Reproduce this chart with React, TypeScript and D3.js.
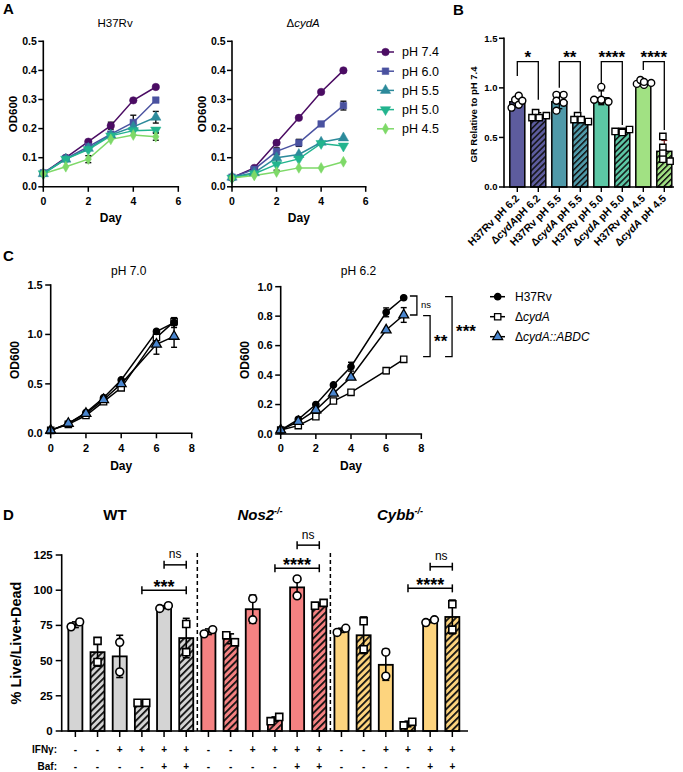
import React from 'react';
import * as d3 from 'd3';

const FONT = "'Liberation Sans', Arial, Helvetica, sans-serif";

// ---------------- Panel A data ----------------
const daysA = [0, 1, 2, 3, 4, 5];
const phLabels = ['pH 7.4', 'pH 6.0', 'pH 5.5', 'pH 5.0', 'pH 4.5'];
const phColors = ['#4b0c63', '#4a52a0', '#2c8a9b', '#22b48e', '#7ed968'];
const phShapes = ['circle', 'square', 'triangle', 'triangleDown', 'diamond'];
const h37rvMeans = [
  [0.046, 0.100, 0.155, 0.210, 0.297, 0.343],
  [0.048, 0.097, 0.138, 0.181, 0.221, 0.298],
  [0.045, 0.095, 0.132, 0.178, 0.206, 0.239],
  [0.045, 0.095, 0.128, 0.175, 0.193, 0.195],
  [0.045, 0.069, 0.095, 0.163, 0.178, 0.172],
];
const h37rvSD = [
  [0, 0, 0, 0.012, 0, 0],
  [0, 0, 0, 0.008, 0.025, 0],
  [0, 0, 0, 0, 0.012, 0.02],
  [0, 0, 0, 0, 0, 0.008],
  [0, 0, 0.012, 0, 0, 0.012],
];
const cydMeans = [
  [0.031, 0.065, 0.151, 0.237, 0.326, 0.400],
  [0.033, 0.060, 0.122, 0.151, 0.216, 0.279],
  [0.033, 0.048, 0.100, 0.111, 0.153, 0.168],
  [0.030, 0.045, 0.077, 0.096, 0.149, 0.140],
  [0.030, 0.039, 0.051, 0.065, 0.065, 0.086],
];
const cydSD = [
  [0, 0, 0, 0, 0, 0],
  [0, 0, 0.012, 0.012, 0, 0.015],
  [0, 0, 0, 0, 0, 0],
  [0, 0, 0.02, 0, 0, 0],
  [0, 0, 0, 0, 0, 0],
];
const aTicksX = [0, 2, 4, 6];
const aTicksY = [0, 0.1, 0.2, 0.3, 0.4, 0.5];

// ---------------- Panel B data ----------------
const bLabels = ['H37Rv pH 6.2', 'ΔcydApH 6.2', 'H37Rv pH 5.5', 'ΔcydA pH 5.5', 'H37Rv pH 5.0', 'ΔcydA pH 5.0', 'H37Rv pH 4.5', 'ΔcydA pH 4.5'];
const bMeans = [0.86, 0.72, 0.86, 0.68, 0.90, 0.56, 1.05, 0.36];
const bSD = [0.05, 0.03, 0.07, 0.03, 0.07, 0.02, 0.03, 0.11];
const bPoints = [
  [0.88, 0.92, 0.83, 0.80, 0.87],
  [0.75, 0.70, 0.70, 0.72],
  [0.93, 0.93, 0.77, 0.87, 0.85],
  [0.72, 0.68, 0.68, 0.66],
  [1.01, 0.87, 0.86, 0.88, 0.88],
  [0.56, 0.58, 0.56, 0.55],
  [1.03, 1.05, 1.04, 1.08, 1.06],
  [0.51, 0.40, 0.34, 0.28, 0.26],
];
const bColors = ['#5d5c9e', '#5d5c9e', '#4f99a9', '#4f99a9', '#5cc7a5', '#5cc7a5', '#a1e183', '#a1e183'];
const bTicksY = [0, 0.5, 1.0, 1.5];
const bSig = ['*', '**', '****', '****'];
const bSigTop = 1.264;
const bSigLegs = [[1.12, 0.88], [1.0, 0.76], [1.05, 0.625], [1.18, 0.575]];

// ---------------- Panel C data ----------------
const cStrains = ['H37Rv', 'ΔcydA', 'ΔcydA::ABDC'];
const daysC = [0, 1, 2, 3, 4, 6, 7];
const c70Means = [
  [0.03, 0.10, 0.21, 0.36, 0.54, 1.03, 1.12],
  [0.03, 0.09, 0.18, 0.32, 0.46, 0.97, 1.13],
  [0.03, 0.10, 0.20, 0.34, 0.50, 0.90, 0.98],
];
const c70SD = [
  [0, 0, 0, 0, 0, 0.02, 0.05],
  [0, 0, 0, 0, 0, 0, 0.03],
  [0, 0, 0, 0, 0.02, 0.10, 0.11],
];
const c62Means = [
  [0.027, 0.100, 0.200, 0.333, 0.457, 0.826, 0.925],
  [0.027, 0.057, 0.118, 0.224, 0.283, 0.430, 0.507],
  [0.027, 0.084, 0.163, 0.276, 0.385, 0.706, 0.808],
];
const c62SD = [
  [0, 0, 0, 0, 0.03, 0.03, 0],
  [0, 0, 0, 0, 0, 0.02, 0],
  [0, 0, 0, 0, 0, 0, 0.05],
];
const cTicksX = [0, 2, 4, 6, 8];
const c70TicksY = [0, 0.5, 1.0, 1.5];
const c62TicksY = [0, 0.2, 0.4, 0.6, 0.8, 1.0];
// brackets: x in day units, y range in OD units
const cBrackets = [
  { x: 7.75, y0: 0.937, y1: 0.808, label: 'ns' },
  { x: 8.5, y0: 0.803, y1: 0.525, label: '**' },
  { x: 9.75, y0: 0.932, y1: 0.525, label: '***' },
];

// ---------------- Panel D data ----------------
const dGroups = ['WT', 'Nos2', 'Cybb'];
const dGroupSup = ['', '-/-', '-/-'];
const dMeans = [75.5, 56, 53, 20.5, 88, 66, 70.5, 65.5, 86.5, 8.5, 102, 90, 71.5, 68, 47, 5, 78, 81];
const dSD = [2, 10, 15, 0.5, 1, 14, 2, 3.5, 10, 1.5, 7, 1, 1.5, 13, 11, 2, 1, 12];
const dPoints = [
  [74, 77.5], [64, 49], [63, 42], [20, 20], [87, 89], [76, 56],
  [69, 72], [68, 63], [94, 79], [7, 10], [108, 96], [89, 91],
  [70, 73], [78, 58], [56, 39], [4, 6.5], [77, 79], [90, 72],
];
const dIFN = ['-', '-', '+', '+', '+', '+', '-', '-', '+', '+', '+', '+', '-', '-', '+', '+', '+', '+'];
const dBaf = ['-', '-', '-', '-', '+', '+', '-', '-', '-', '-', '+', '+', '-', '-', '-', '-', '+', '+'];
const dColors = ['#d4d4d4', '#f58282', '#fdd47e'];
const dTicksY = [0, 25, 50, 75, 100, 125];
// significance brackets: from bar index a to b at y (data units)
const dSig = [
  { a: 3, b: 5, y: 100, label: '***' },
  { a: 4, b: 5, y: 118, label: 'ns' },
  { a: 9, b: 11, y: 115.6, label: '****' },
  { a: 10, b: 11, y: 132, label: 'ns' },
  { a: 15, b: 17, y: 101.3, label: '****' },
  { a: 16, b: 17, y: 116.7, label: 'ns' },
];

// ---------------- helpers ----------------
const symbolTypes: any = {
  circle: d3.symbolCircle,
  square: d3.symbolSquare,
  triangle: d3.symbolTriangle,
  triangleDown: d3.symbolTriangle,
  diamond: d3.symbolDiamond,
};

function Marker({ shape, cx, cy, size, fill, stroke = '#000', sw = 1.2 }: any) {
  const d = d3.symbol(symbolTypes[shape], size)() as string;
  const rot = shape === 'triangleDown' ? 180 : 0;
  return <path d={d} transform={`translate(${cx},${cy}) rotate(${rot})`} fill={fill} stroke={stroke} strokeWidth={sw} />;
}

function ErrBar({ x, yLo, yHi, cap, sw = 1.3, color = '#000' }: any) {
  return (
    <g stroke={color} strokeWidth={sw} fill="none">
      <line x1={x} x2={x} y1={yLo} y2={yHi} />
      <line x1={x - cap / 2} x2={x + cap / 2} y1={yLo} y2={yLo} />
      <line x1={x - cap / 2} x2={x + cap / 2} y1={yHi} y2={yHi} />
    </g>
  );
}

function YAxis({ scale, x, ticks, fmt, fs, tick = 5, gap = 1.5 }: any) {
  const [r0, r1] = scale.range();
  return (
    <g>
      <line x1={x} x2={x} y1={r0} y2={r1} stroke="#000" strokeWidth={1.6} strokeLinecap="square" />
      {ticks.map((t: number) => (
        <g key={t}>
          <line x1={x - tick} x2={x} y1={scale(t)} y2={scale(t)} stroke="#000" strokeWidth={1.5} />
          <text x={x - tick - gap} y={scale(t)} dy="0.35em" textAnchor="end" fontWeight="bold" fontSize={fs}>{fmt(t)}</text>
        </g>
      ))}
    </g>
  );
}

function XAxis({ scale, y, ticks, fs, tick = 5, labelY }: any) {
  const [r0, r1] = scale.range();
  return (
    <g>
      <line x1={r0} x2={r1} y1={y} y2={y} stroke="#000" strokeWidth={1.6} strokeLinecap="square" />
      {ticks.map((t: number) => (
        <g key={t}>
          <line x1={scale(t)} x2={scale(t)} y1={y} y2={y + tick} stroke="#000" strokeWidth={1.5} />
          <text x={scale(t)} y={labelY} textAnchor="middle" fontWeight="bold" fontSize={fs}>{t}</text>
        </g>
      ))}
    </g>
  );
}

function swarm(ys: number[], minDist: number, step: number) {
  const placed: { x: number; y: number }[] = [];
  const offs = ys.map((y) => {
    const cands = [0, step, -step, 2 * step, -2 * step, 3 * step, -3 * step];
    for (const c of cands) {
      if (placed.every((p) => Math.hypot(p.x - c, p.y - y) >= minDist)) {
        placed.push({ x: c, y });
        return c;
      }
    }
    placed.push({ x: 0, y });
    return 0;
  });
  const m = d3.mean(offs) as number;
  return offs.map((o) => o - m);
}

function Strain({ label }: any) {
  const m = label.match(/^Δ(cydA(?:::ABDC)?)(.*)$/);
  if (m) {
    return (
      <>
        <tspan>Δ</tspan>
        <tspan fontStyle="italic">{m[1]}</tspan>
        <tspan>{m[2]}</tspan>
      </>
    );
  }
  return <tspan>{label}</tspan>;
}

const f1 = d3.format('.1f');

// ---------------- Panel A ----------------
function PanelA() {
  const yA = d3.scaleLinear().domain([0, 0.5]).range([186.8, 41.3]);
  const xs = [
    d3.scaleLinear().domain([0, 6]).range([43.3, 178.3]),
    d3.scaleLinear().domain([0, 6]).range([232, 365.7]),
  ];
  const sets = [
    { means: h37rvMeans, sd: h37rvSD, title: 'H37Rv' },
    { means: cydMeans, sd: cydSD, title: 'ΔcydA' },
  ];
  const sizes: any = { circle: 44, square: 44, triangle: 46, triangleDown: 46, diamond: 34 };
  return (
    <g>
      <text x={3} y={14} fontWeight="bold" fontSize={15}>A</text>
      {sets.map((s, k) => {
        const x = xs[k];
        const line = d3.line<number>().x((_, i) => x(daysA[i])).y((v) => yA(v));
        const cx = (x.range()[0] + x.range()[1]) / 2;
        return (
          <g key={k}>
            <text x={cx + 4.3} y={27} textAnchor="middle" fontSize={11.5}><Strain label={s.title} /></text>
            {s.means.map((ser, j) => (
              <path key={j} d={line(ser) as string} fill="none" stroke={phColors[j]} strokeWidth={1.5} />
            ))}
            {s.means.map((ser, j) =>
              ser.map((v, i) =>
                s.sd[j][i] > 0 ? (
                  <ErrBar key={`e${j}-${i}`} x={x(daysA[i])} yLo={yA(v - s.sd[j][i])} yHi={yA(v + s.sd[j][i])} cap={6} sw={1.4} color="#111" />
                ) : null
              )
            )}
            {s.means.map((ser, j) =>
              ser.map((v, i) => (
                <Marker key={`m${j}-${i}`} shape={phShapes[j]} cx={x(daysA[i])} cy={yA(v)} size={sizes[phShapes[j]]} fill={phColors[j]} stroke={phColors[j]} sw={0.5} />
              ))
            )}
            <YAxis scale={yA} x={x.range()[0]} ticks={aTicksY} fmt={f1} fs={10.5} />
            <XAxis scale={x} y={yA(0)} ticks={aTicksX} fs={10.5} labelY={205} />
            <text x={cx} y={221.5} textAnchor="middle" fontWeight="bold" fontSize={12}>Day</text>
            <text transform={`translate(${x.range()[0] - 26},${114}) rotate(-90)`} textAnchor="middle" fontWeight="bold" fontSize={11.5}>OD600</text>
          </g>
        );
      })}
      {phLabels.map((l, j) => {
        const yy = 52 + j * 19.2;
        return (
          <g key={l}>
            <line x1={377} x2={394} y1={yy} y2={yy} stroke={phColors[j]} strokeWidth={1.5} />
            <Marker shape={phShapes[j]} cx={385.5} cy={yy} size={sizes[phShapes[j]]} fill={phColors[j]} stroke={phColors[j]} sw={0.5} />
            <text x={402} y={yy + 4.3} fontSize={12.5}>{l}</text>
          </g>
        );
      })}
    </g>
  );
}

// ---------------- Panel B ----------------
function PanelB() {
  const y = d3.scaleLinear().domain([0, 1.5]).range([187, 38.3]);
  const x = d3.scaleBand<number>().domain(d3.range(bMeans.length)).range([506.8, 674.8]).paddingInner(0.286).paddingOuter(0.143);
  const bw = x.bandwidth();
  return (
    <g>
      <text x={453} y={15} fontWeight="bold" fontSize={15}>B</text>
      {bMeans.map((m, i) => (
        <rect key={i} x={x(i)} y={y(m)} width={bw} height={y(0) - y(m)} fill={i % 2 ? `url(#hb${i})` : bColors[i]} stroke="#000" strokeWidth={1.5} />
      ))}
      {bMeans.map((m, i) => {
        const cx = (x(i) as number) + bw / 2;
        return <ErrBar key={i} x={cx} yLo={y(m - bSD[i])} yHi={y(m + bSD[i])} cap={6} sw={1.3} color={i === 7 ? '#7a2020' : '#000'} />;
      })}
      {bPoints.map((pts, i) => {
        const cx = (x(i) as number) + bw / 2;
        const ys = pts.map((v) => y(v));
        const offs = swarm(ys, 5.2, 3.6);
        return pts.map((v, k) => (
          <Marker key={`${i}-${k}`} shape={i % 2 ? 'square' : 'circle'} cx={cx + offs[k]} cy={y(v)} size={i % 2 ? 40 : 38} fill="#fff" stroke="#000" sw={1.4} />
        ));
      })}
      <YAxis scale={y} x={504} ticks={bTicksY} fmt={f1} fs={9.5} tick={5} gap={1.5} />
      <line x1={504} x2={674} y1={187} y2={187} stroke="#000" strokeWidth={1.6} />
      {bMeans.map((_, i) => {
        const cx = (x(i) as number) + bw / 2;
        return (
          <g key={i}>
            <line x1={cx} x2={cx} y1={187} y2={192} stroke="#000" strokeWidth={1.4} />
            <text transform={`translate(${cx + 2.5},${199}) rotate(-45)`} textAnchor="end" fontWeight="bold" fontSize={10.5}>
              <Strain label={bLabels[i]} />
            </text>
          </g>
        );
      })}
      {bSig.map((s, k) => {
        const xa = (x(2 * k) as number) + bw / 2;
        const xb = (x(2 * k + 1) as number) + bw / 2;
        const top = y(bSigTop);
        return (
          <g key={k}>
            <path d={`M${xa},${y(bSigLegs[k][0])}V${top}H${xb}V${y(bSigLegs[k][1])}`} fill="none" stroke="#000" strokeWidth={1.3} />
            <text x={(xa + xb) / 2} y={top + 1.5} textAnchor="middle" fontWeight="bold" fontSize={17}>{s}</text>
          </g>
        );
      })}
      <text transform={`translate(${476.5},${114.5}) rotate(-90)`} textAnchor="middle" fontWeight="bold" fontSize={9.5}>GR Relative to pH 7.4</text>
    </g>
  );
}

// ---------------- Panel C ----------------
const cShapes = ['circle', 'square', 'triangle'];
const cFills = ['#000', '#fff', '#4a86cf'];
const cSizes = [32, 40, 42];

function PanelC() {
  const panels = [
    { x: d3.scaleLinear().domain([0, 8]).range([50.7, 191.7]), y: d3.scaleLinear().domain([0, 1.5]).range([433.3, 285]), means: c70Means, sd: c70SD, ticks: c70TicksY, title: 'pH 7.0' },
    { x: d3.scaleLinear().domain([0, 8]).range([280.7, 421.3]), y: d3.scaleLinear().domain([0, 1.0]).range([434, 286.7]), means: c62Means, sd: c62SD, ticks: c62TicksY, title: 'pH 6.2' },
  ];
  return (
    <g>
      <text x={3} y={261} fontWeight="bold" fontSize={15}>C</text>
      {panels.map((p, k) => {
        const line = d3.line<number>().x((_, i) => p.x(daysC[i])).y((v) => p.y(v));
        const cx = (p.x.range()[0] + p.x.range()[1]) / 2;
        return (
          <g key={k}>
            <text x={cx + 7.5} y={275} textAnchor="middle" fontSize={12}>{p.title}</text>
            {p.means.map((ser, j) => (
              <path key={j} d={line(ser) as string} fill="none" stroke="#000" strokeWidth={1.5} />
            ))}
            {p.means.map((ser, j) =>
              ser.map((v, i) =>
                p.sd[j][i] > 0 ? <ErrBar key={`e${j}-${i}`} x={p.x(daysC[i])} yLo={p.y(v - p.sd[j][i])} yHi={p.y(v + p.sd[j][i])} cap={6} sw={1.4} /> : null
              )
            )}
            {[1, 0, 2].map((j) =>
              p.means[j].map((v, i) => (
                <Marker key={`m${j}-${i}`} shape={cShapes[j]} cx={p.x(daysC[i])} cy={p.y(v)} size={cSizes[j]} fill={cFills[j]} stroke="#000" sw={1.3} />
              ))
            )}
            <YAxis scale={p.y} x={p.x.range()[0]} ticks={p.ticks} fmt={f1} fs={11} tick={5.5} gap={2.5} />
            <XAxis scale={p.x} y={p.y(0)} ticks={cTicksX} fs={11} tick={5} labelY={452} />
            <text x={cx} y={470} textAnchor="middle" fontWeight="bold" fontSize={12}>Day</text>
            <text transform={`translate(${p.x.range()[0] - 31.5},${360}) rotate(-90)`} textAnchor="middle" fontWeight="bold" fontSize={12}>OD600</text>
          </g>
        );
      })}
      {cBrackets.map((b, k) => {
        const p = panels[1];
        const bx = p.x(b.x);
        const y0 = p.y(b.y0);
        const y1 = p.y(b.y1);
        const mid = (y0 + y1) / 2;
        return (
          <g key={k}>
            <path d={`M${bx - 7},${y0}H${bx}V${y1}H${bx - 7}`} fill="none" stroke="#000" strokeWidth={1.3} />
            {b.label === 'ns' ? (
              <text x={bx + 4} y={mid + 3} fontSize={9.5}>ns</text>
            ) : (
              <text x={bx + 4} y={mid + 10.5} fontWeight="bold" fontSize={17}>{b.label}</text>
            )}
          </g>
        );
      })}
      {cStrains.map((s, j) => {
        const yy = 296.7 + j * 20;
        return (
          <g key={s}>
            <line x1={490} x2={505} y1={yy} y2={yy} stroke="#000" strokeWidth={1.5} />
            <Marker shape={cShapes[j]} cx={497.7} cy={yy} size={cSizes[j]} fill={cFills[j]} stroke="#000" sw={1.3} />
            <text x={515} y={yy + 4.3} fontSize={12}><Strain label={s} /></text>
          </g>
        );
      })}
    </g>
  );
}

// ---------------- Panel D ----------------
function PanelD() {
  const y = d3.scaleLinear().domain([0, 125]).range([731, 555]);
  const x = d3.scaleBand<number>().domain(d3.range(dMeans.length)).range([61.7, 466]).paddingInner(0.367).paddingOuter(0.3);
  const bw = x.bandwidth();
  const c = (i: number) => (x(i) as number) + bw / 2;
  const groupCenters = [115, 260, 400];
  return (
    <g>
      <text x={3} y={520} fontWeight="bold" fontSize={15}>D</text>
      {dGroups.map((g, k) => (
        <text key={g} x={groupCenters[k]} y={520} textAnchor="middle" fontWeight="bold" fontSize={15} fontStyle={k ? 'italic' : 'normal'}>
          {g}
          {dGroupSup[k] ? <tspan fontSize={9} dy={-6} fontStyle="italic">{dGroupSup[k]}</tspan> : null}
        </text>
      ))}
      {[5.5, 11.5].map((s) => {
        const xs = (c(Math.floor(s)) + c(Math.ceil(s))) / 2;
        return <line key={s} x1={xs} x2={xs} y1={553} y2={731} stroke="#000" strokeWidth={1.5} strokeDasharray="4,3" />;
      })}
      {dMeans.map((m, i) => {
        const g = Math.floor(i / 6);
        return <rect key={i} x={x(i)} y={y(m)} width={bw} height={y(0) - y(m)} fill={i % 2 ? `url(#hd${g})` : dColors[g]} stroke="#000" strokeWidth={1.8} />;
      })}
      {dMeans.map((m, i) => (dSD[i] > 0.6 ? <ErrBar key={i} x={c(i)} yLo={y(m - dSD[i])} yHi={y(m + dSD[i])} cap={7} sw={1.6} /> : null))}
      {dPoints.map((pts, i) => {
        const ys = pts.map((v) => y(v));
        const offs = swarm(ys, 7.8, 8.6);
        return pts.map((v, k) => (
          <Marker key={`${i}-${k}`} shape={i % 2 ? 'square' : 'circle'} cx={c(i) + offs[k]} cy={y(v)} size={i % 2 ? 50 : 48} fill="#fff" stroke="#000" sw={1.6} />
        ));
      })}
      <YAxis scale={y} x={61.7} ticks={dTicksY} fmt={(t: number) => String(t)} fs={11.5} tick={6} gap={3} />
      <line x1={61.7} x2={468} y1={731} y2={731} stroke="#000" strokeWidth={1.6} />
      {dMeans.map((_, i) => (
        <g key={i}>
          <line x1={c(i)} x2={c(i)} y1={731} y2={737} stroke="#000" strokeWidth={1.5} />
          <text x={c(i)} y={753} textAnchor="middle" fontWeight="bold" fontSize={10}>{dIFN[i]}</text>
          <text x={c(i)} y={769.5} textAnchor="middle" fontWeight="bold" fontSize={10}>{dBaf[i]}</text>
        </g>
      ))}
      <text x={57} y={753} textAnchor="end" fontWeight="bold" fontSize={10}>IFNγ:</text>
      <text x={57} y={769.5} textAnchor="end" fontWeight="bold" fontSize={10}>Baf:</text>
      {dSig.map((s, k) => {
        const xa = c(s.a);
        const xb = c(s.b);
        const yy = y(s.y);
        return (
          <g key={k}>
            <line x1={xa} x2={xb} y1={yy} y2={yy} stroke="#000" strokeWidth={1.5} />
            <line x1={xa} x2={xa} y1={yy - 4} y2={yy + 4} stroke="#000" strokeWidth={1.5} />
            <line x1={xb} x2={xb} y1={yy - 4} y2={yy + 4} stroke="#000" strokeWidth={1.5} />
            {s.label === 'ns' ? (
              <text x={(xa + xb) / 2} y={yy - 6.5} textAnchor="middle" fontSize={12}>ns</text>
            ) : (
              <text x={(xa + xb) / 2} y={yy + 2.5} textAnchor="middle" fontWeight="bold" fontSize={18}>{s.label}</text>
            )}
          </g>
        );
      })}
      <text transform={`translate(${20.5},${643}) rotate(-90)`} textAnchor="middle" fontWeight="bold" fontSize={14.5}>% Live/Live+Dead</text>
    </g>
  );
}

export default function App() {
  return (
    <svg width={683} height={772} style={{ position: 'absolute', left: 0, top: 0, background: '#fff' }} fontFamily={FONT}>
      <defs>
        {bColors.map((col, i) => (
          <pattern key={i} id={`hb${i}`} patternUnits="userSpaceOnUse" width={4.2} height={4.2} patternTransform="rotate(45)">
            <rect width={4.2} height={4.2} fill={col} />
            <rect width={1.5} height={4.2} fill="#111" />
          </pattern>
        ))}
        {dColors.map((col, i) => (
          <pattern key={i} id={`hd${i}`} patternUnits="userSpaceOnUse" width={4.8} height={4.8} patternTransform="rotate(45)">
            <rect width={4.8} height={4.8} fill={col} />
            <rect width={1.8} height={4.8} fill="#111" />
          </pattern>
        ))}
      </defs>
      <rect width={683} height={772} fill="#fff" />
      <PanelA />
      <PanelB />
      <PanelC />
      <PanelD />
    </svg>
  );
}
